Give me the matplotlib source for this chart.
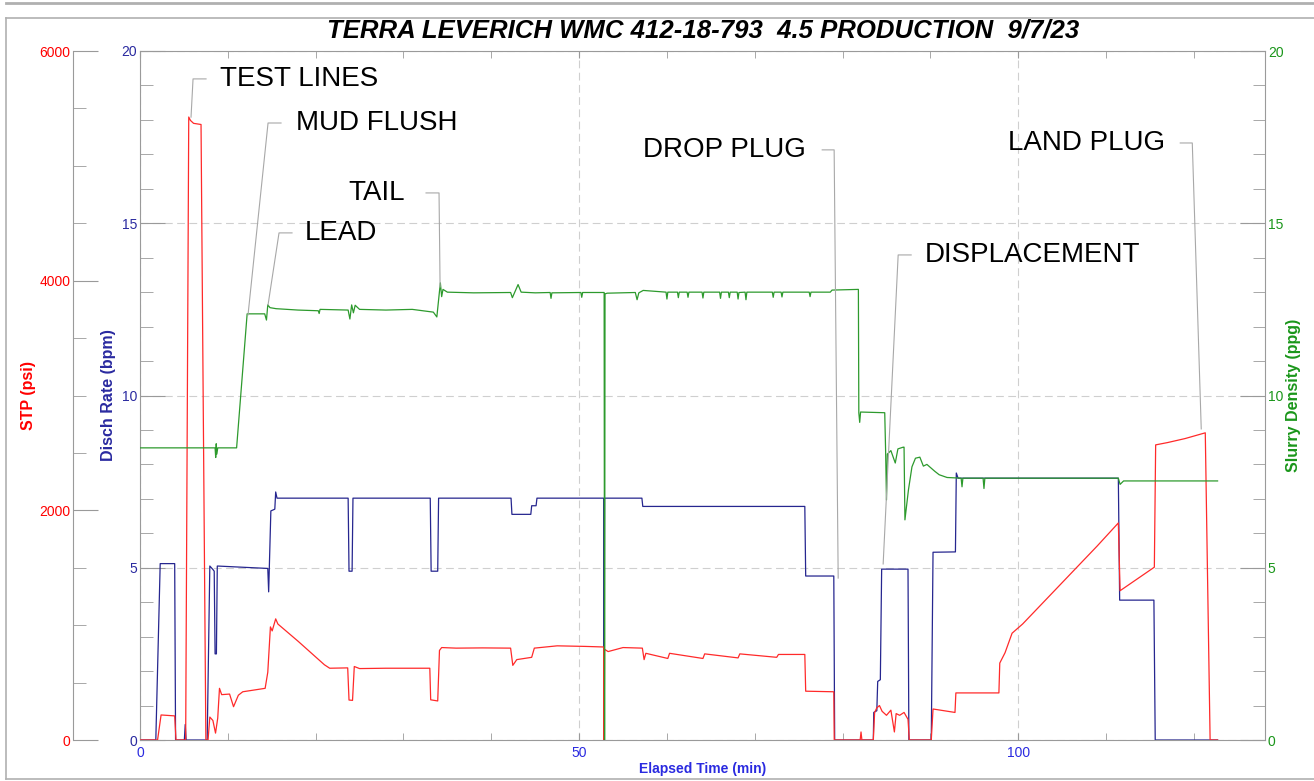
import matplotlib
matplotlib.use("Agg")
import matplotlib.pyplot as plt
from matplotlib.lines import Line2D
from matplotlib.ticker import MultipleLocator

plt.rcParams['font.family'] = ['Liberation Sans', 'DejaVu Sans']

TITLE = "TERRA LEVERICH WMC 412-18-793  4.5 PRODUCTION  9/7/23"

# --- STP (psi) ----------------------------------------------------------
stp_time = [0, 2.0, 2.4, 3.95, 4.1, 5.2, 5.55, 5.75, 6.1, 6.95, 7.5, 7.75,
            7.95, 8.3, 8.6, 8.85, 9.05, 9.3, 10.2, 10.65, 11.2, 11.7, 14.25,
            14.55, 14.85, 15.05, 15.45, 15.7, 18.0, 21.0, 21.6, 23.65, 23.8,
            24.2, 24.4, 25.0, 28.0, 33.0, 33.1, 33.9, 34.1, 34.35, 36.0, 39.0,
            42.2, 42.45, 42.9, 44.6, 44.9, 47.5, 50.7, 52.8, 52.85, 52.9, 53.3,
            55.0, 57.2, 57.4, 57.6, 60.1, 60.3, 64.1, 64.3, 68.1, 68.3, 72.5,
            72.7, 75.7, 75.8, 79.0, 79.05, 82.0, 82.1, 82.2, 83.5, 83.65, 83.9,
            84.2, 84.5, 85.0, 85.5, 85.9, 86.1, 86.5, 87.0, 87.45, 87.6, 90.1,
            90.3, 92.8, 92.9, 97.8, 97.9, 98.5, 99.3, 100.5, 103.0, 106.0,
            109.0, 111.4, 111.6, 115.5, 115.65, 117.0, 119.0, 121.3, 121.85,
            122.7]
stp_psi = [0, 0, 218, 210, 0, 0, 5425, 5395, 5370, 5360, 0, 0,
           200, 170, 60, 190, 450, 395, 400, 290, 390, 420, 450,
           590, 985, 950, 1055, 1010, 860, 655, 625, 628, 348,
           345, 640, 622, 625, 625, 350, 340, 780, 805, 800, 802,
           800, 650, 700, 720, 800, 820, 815, 810, 0, 790, 770,
           805, 800, 700, 755, 710, 755, 710, 750, 715, 750, 720,
           745, 745, 425, 420, 0, 0, 70, 0, 0, 240, 280,
           300, 250, 215, 260, 70, 230, 215, 240, 180, 0, 0,
           270, 240, 410, 410, 670, 760, 930, 1010, 1210, 1450,
           1690, 1890, 1300, 1505, 2570, 2590, 2625, 2675, 0,
           0]

# --- Disch rate (bpm) ----------------------------------------------------
rate_time = [0, 1.8, 2.3, 3.95, 4.05, 5.05, 5.15, 5.25, 7.65, 7.95, 8.3, 8.45,
             8.55, 8.7, 8.8, 14.55, 14.65, 14.9, 15.35, 15.45, 15.6, 23.7,
             23.8, 24.15, 24.25, 33.05, 33.15, 33.9, 34.0, 42.25, 42.35, 44.5,
             44.6, 45.1, 45.2, 52.8, 52.85, 52.9, 57.15, 57.25, 75.7, 75.8,
             79.0, 79.1, 83.5, 83.55, 83.9, 84.0, 84.3, 84.45, 87.45, 87.55,
             90.1, 90.3, 92.85, 92.95, 93.15, 111.4, 111.55, 115.45, 115.6,
             122.7]
rate_bpm = [0, 0, 5.12, 5.12, 0, 0, 0.45, 0, 0, 5.05, 4.95, 4.9,
            2.5, 2.5, 5.05, 4.98, 4.3, 6.65, 6.7, 7.2, 7.02, 7.02,
            4.9, 4.9, 7.02, 7.02, 4.9, 4.9, 7.02, 7.02, 6.55, 6.55,
            6.8, 6.8, 7.02, 7.02, 0, 7.02, 7.02, 6.78, 6.78, 4.76,
            4.76, 0, 0, 0.8, 0.85, 1.7, 1.75, 4.96, 4.96, 0,
            0, 5.45, 5.46, 7.75, 7.6, 7.6, 4.06, 4.06, 0,
            0]

# --- Slurry density (ppg) ------------------------------------------------
dens_time = [0, 8.55, 8.62, 8.68, 8.75, 8.85, 11.0, 12.2, 14.2, 14.4, 14.55,
             14.8, 15.5, 18.0, 20.3, 20.4, 20.5, 23.7, 23.9, 24.1, 24.3, 24.5,
             25.0, 28.0, 31.0, 33.4, 33.8, 34.2, 34.35, 34.5, 35.0, 38.0, 42.2,
             42.4, 43.05, 43.4, 45.0, 46.7, 46.8, 46.9, 50.2, 50.3, 50.4,
             52.85, 52.9, 52.95, 53.2, 56.4, 56.6, 56.8, 57.3, 59.9, 60.0,
             60.1, 61.2, 61.3, 61.4, 62.3, 62.4, 62.5, 64.0, 64.1, 64.2, 66.0,
             66.1, 66.2, 67.0, 67.1, 67.2, 68.0, 68.1, 68.2, 68.9, 69.0, 69.1,
             72.0, 72.1, 72.2, 73.0, 73.1, 73.2, 76.2, 76.3, 76.4, 78.6, 78.8,
             81.8, 81.85, 81.95, 82.05, 84.8, 84.9, 85.0, 85.1, 85.5, 86.0,
             86.3, 86.9, 87.0, 87.1, 87.5, 87.9, 88.3, 88.8, 89.2, 89.6, 90.5,
             91.0, 91.9, 93.5, 93.6, 93.7, 96.0, 96.1, 96.2, 100.0, 111.4,
             111.6, 112.0, 122.7]
dens_ppg = [8.48, 8.48, 8.2, 8.6, 8.3, 8.48, 8.48, 12.37, 12.37, 12.19, 12.63,
            12.55, 12.52, 12.48, 12.46, 12.38, 12.5, 12.48, 12.22, 12.63, 12.4, 12.62,
            12.5, 12.48, 12.5, 12.42, 12.28, 13.27, 12.87, 13.08, 13.0, 12.98, 12.99,
            12.84, 13.22, 13.0, 12.98, 12.99, 12.82, 12.98, 12.99, 12.85, 12.99,
            12.99, 0, 12.95, 12.97, 12.99, 12.78, 12.98, 13.05, 13.0, 12.8,
            13.0, 13.0, 12.84, 13.0, 13.0, 12.85, 13.0, 13.0, 12.83, 13.0, 13.0,
            12.82, 13.0, 13.0, 12.84, 13.0, 13.0, 12.8, 12.99, 13.0, 12.78, 13.0,
            13.0, 12.85, 13.0, 13.0, 12.86, 13.0, 13.0, 12.87, 13.0, 13.0, 13.06,
            13.08, 9.5, 9.22, 9.52, 9.5, 8.4, 6.97, 8.3, 8.4, 8.04,
            8.45, 8.5, 8.5, 6.39, 7.26, 7.93, 8.18, 8.21, 7.95, 8.0, 7.8,
            7.7, 7.62, 7.6, 7.35, 7.6, 7.6, 7.3, 7.6, 7.6, 7.6,
            7.42, 7.52, 7.52]

# --- Stage callouts: text, text anchor (min, axis units), alignment, leader
CALLOUTS = ["TEST LINES", "MUD FLUSH", "LEAD", "TAIL",
            "DROP PLUG", "DISPLACEMENT", "LAND PLUG"]
CALLOUT_XY = [(9.1, 19.2), (17.8, 17.92), (18.8, 14.73), (30.2, 15.88),
              (75.8, 17.13), (89.3, 14.08), (116.7, 17.33)]
CALLOUT_HA = ["left", "left", "left", "right", "right", "left", "right"]
LEADERS = [
    [(7.52, 19.19), (6.04, 19.19), (5.81, 18.08)],
    [(16.06, 17.91), (14.58, 17.91), (12.3, 12.34)],
    [(17.31, 14.72), (15.83, 14.72), (14.58, 12.63)],
    [(32.57, 15.88), (34.05, 15.88), (34.17, 13.15)],
    [(77.68, 17.13), (79.04, 17.13), (79.5, 4.7)],
    [(87.81, 14.08), (86.33, 14.08), (84.62, 5.11)],
    [(118.45, 17.33), (119.82, 17.33), (120.84, 9.03)],
]

RED = "#ff2a2a"
NAVY = "#26268f"
GREEN = "#2d9a2d"
GRAY = "#9a9a9a"
TICK_FS = 10
LABEL_FS = 11.5

W, H = 1314, 781
fig = plt.figure(figsize=(W / 100, H / 100), dpi=100)
fig.patch.set_facecolor("white")

ax = fig.add_axes([140 / W, 41 / H, 1125 / W, 689 / H])
ax_p = ax.twinx()
ax_d = ax.twinx()

# rate (host) axis
ax.set_xlim(0, 128.1)
ax.set_ylim(0, 20)
ax.plot(rate_time, rate_bpm, color=NAVY, lw=0.9)
ax.xaxis.set_major_locator(MultipleLocator(50))
ax.xaxis.set_minor_locator(MultipleLocator(10))
ax.yaxis.set_major_locator(MultipleLocator(5))
ax.yaxis.set_minor_locator(MultipleLocator(1))
ax.grid(True, which="major", color="#cfcfcf", linestyle=(0, (7, 4)), lw=0.8)
for s in ["left", "top", "bottom"]:
    ax.spines[s].set_color(GRAY)
ax.spines["right"].set_visible(False)
ax.tick_params(axis="y", which="both", direction="in", color=GRAY,
               labelcolor="#2a2aa0", labelsize=TICK_FS, pad=2)
ax.tick_params(axis="y", which="major", length=18)
ax.tick_params(axis="y", which="minor", length=9)
ax.tick_params(axis="x", which="both", direction="in", color=GRAY,
               labelcolor="#2a2ae0", labelsize=TICK_FS, length=5, pad=4,
               top=True)
ax.set_xlabel("Elapsed Time (min)", color="#2a2ae0", fontweight="bold",
              fontsize=10, labelpad=2)
ax.set_ylabel("Disch Rate (bpm)", color="#2a2aa0", fontweight="bold",
              fontsize=LABEL_FS, labelpad=4)

# STP axis (outer left)
ax_p.set_ylim(0, 6000)
ax_p.plot(stp_time, stp_psi, color=RED, lw=0.9)
ax_p.yaxis.tick_left()
ax_p.yaxis.set_label_position("left")
ax_p.spines["left"].set_position(("axes", (73 - 140) / 1125))
ax_p.spines["left"].set_color(GRAY)
for s in ["right", "top", "bottom"]:
    ax_p.spines[s].set_visible(False)
ax_p.yaxis.set_major_locator(MultipleLocator(2000))
ax_p.yaxis.set_minor_locator(MultipleLocator(500))
ax_p.tick_params(axis="y", which="both", direction="in", color=GRAY,
                 labelcolor="#ff0000", labelsize=TICK_FS, pad=2)
ax_p.tick_params(axis="y", which="major", length=18)
ax_p.tick_params(axis="y", which="minor", length=9)
ax_p.set_ylabel("STP (psi)", color="#ff0000", fontweight="bold",
                fontsize=LABEL_FS, labelpad=2)

# density axis (right)
ax_d.set_ylim(0, 20)
ax_d.plot(dens_time, dens_ppg, color=GREEN, lw=0.9)
for s in ["left", "top", "bottom"]:
    ax_d.spines[s].set_visible(False)
ax_d.spines["right"].set_color(GRAY)
ax_d.yaxis.set_major_locator(MultipleLocator(5))
ax_d.yaxis.set_minor_locator(MultipleLocator(1))
ax_d.tick_params(axis="y", which="both", direction="in", color=GRAY,
                 labelcolor="#1a961a", labelsize=TICK_FS, pad=2)
ax_d.tick_params(axis="y", which="major", length=18)
ax_d.tick_params(axis="y", which="minor", length=9)
ax_d.set_ylabel("Slurry Density (ppg)", color="#1a961a", fontweight="bold",
                fontsize=LABEL_FS, rotation=90, labelpad=2)

# stage callouts with leader lines
for txt, (tx, ty), ha, pts in zip(CALLOUTS, CALLOUT_XY, CALLOUT_HA, LEADERS):
    xs = [p[0] for p in pts]
    ys = [p[1] for p in pts]
    ax_d.plot(xs, ys, color="#a8a8a8", lw=0.8, clip_on=False)
    ax_d.text(tx, ty, txt, ha=ha, va="center", fontsize=20, color="black")

fig.text(703 / W, 1 - 31 / H, TITLE, ha="center", va="center",
         fontsize=18.5, fontweight="bold", fontstyle="italic")

# outer frame
frame = dict(color="#b0b0b0", lw=1.2, transform=fig.transFigure)
fig.add_artist(Line2D([6 / W, 1], [1 - 3 / H, 1 - 3 / H], lw=2.0,
                      color="#b0b0b0", transform=fig.transFigure))
fig.add_artist(Line2D([6 / W, 6 / W], [1 - 18 / H, 1 - 779 / H], **frame))
fig.add_artist(Line2D([6 / W, 1], [1 - 18 / H, 1 - 18 / H], **frame))
fig.add_artist(Line2D([6 / W, 1], [1 - 779 / H, 1 - 779 / H], **frame))

fig.savefig("out.png", dpi=100, facecolor="white")
